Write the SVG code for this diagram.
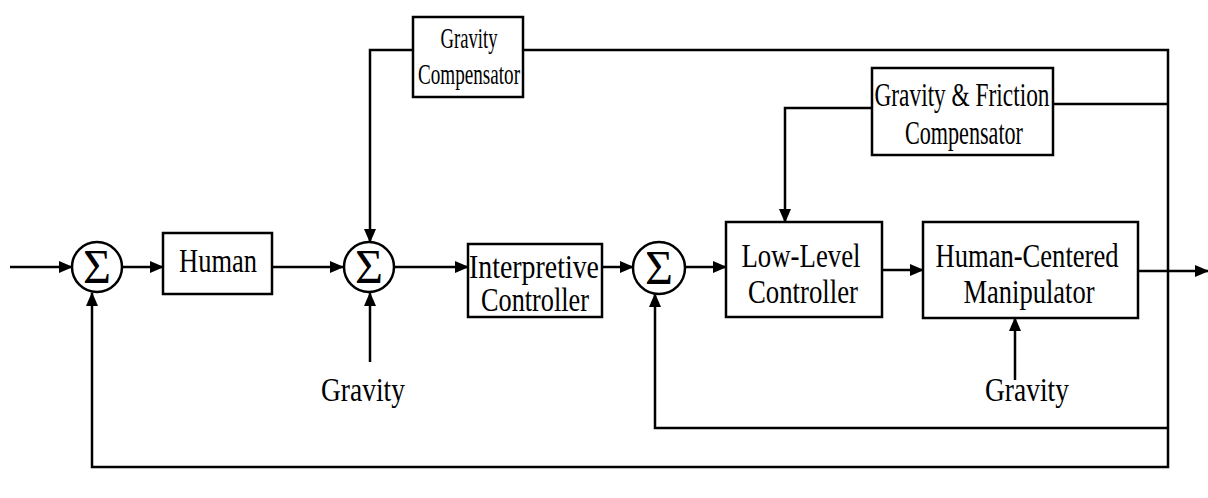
<svg xmlns="http://www.w3.org/2000/svg" width="1208" height="498" viewBox="0 0 1208 498">
<style>
.box{fill:#fff;stroke:#000;stroke-width:2.5}
.sum{fill:#fff;stroke:#000;stroke-width:2.5}
.ln{fill:none;stroke:#000;stroke-width:2.5}
.t{font-family:"Liberation Serif","Times New Roman",serif;font-size:33px;fill:#000;text-anchor:middle}
.ts{font-family:"Liberation Serif","Times New Roman",serif;font-size:30px;fill:#000;text-anchor:middle}
.sg{font-family:"Liberation Serif","Times New Roman",serif;font-size:48px;fill:#000;text-anchor:middle}
</style>
<defs>
<marker id="ah" markerUnits="userSpaceOnUse" markerWidth="14" markerHeight="12" refX="13" refY="6" orient="auto">
<path d="M0,0 L14,6 L0,12 Z" fill="#000"/>
</marker>
</defs>
<rect width="1208" height="498" fill="#fff"/>
<g id="connectors">
<path class="ln" d="M10,267 L72,267" marker-end="url(#ah)"/>
<path class="ln" d="M122,267 L163,267" marker-end="url(#ah)"/>
<path class="ln" d="M272,267 L343,267" marker-end="url(#ah)"/>
<path class="ln" d="M394,267 L468,267" marker-end="url(#ah)"/>
<path class="ln" d="M602,267 L633,267" marker-end="url(#ah)"/>
<path class="ln" d="M685,267 L726,267" marker-end="url(#ah)"/>
<path class="ln" d="M882,270 L923,270" marker-end="url(#ah)"/>
<path class="ln" d="M1138,271 L1208,271" marker-end="url(#ah)"/>
<path class="ln" d="M370,362 L370,293" marker-end="url(#ah)"/>
<path class="ln" d="M1015,380 L1015,318" marker-end="url(#ah)"/>
<path class="ln" d="M413,50 L370,50 L370,242" marker-end="url(#ah)"/>
<path class="ln" d="M523,50 L1168,50 L1168,467 L92,467 L92,293" marker-end="url(#ah)"/>
<path class="ln" d="M1053,104 L1168,104"/>
<path class="ln" d="M872,108 L785,108 L785,222" marker-end="url(#ah)"/>
<path class="ln" d="M1168,428 L655,428 L655,294" marker-end="url(#ah)"/>
</g>
<g id="sum1"><circle class="sum" cx="97" cy="267" r="25"/><text class="sg" x="97" y="283">Σ</text></g>
<g id="human"><rect class="box" x="163" y="233" width="109" height="61"/><text class="t" x="218" y="272" textLength="78" lengthAdjust="spacingAndGlyphs">Human</text></g>
<g id="sum2"><circle class="sum" cx="369" cy="267" r="25"/><text class="sg" x="369" y="283">Σ</text></g>
<g id="interpretive"><rect class="box" x="468" y="244" width="134" height="73"/><text class="t" x="534" y="278" textLength="130" lengthAdjust="spacingAndGlyphs">Interpretive</text><text class="t" x="535" y="311" textLength="108" lengthAdjust="spacingAndGlyphs">Controller</text></g>
<g id="sum3"><circle class="sum" cx="659" cy="268" r="26"/><text class="sg" x="659" y="284">Σ</text></g>
<g id="lowlevel"><rect class="box" x="726" y="222" width="156" height="95"/><text class="t" x="801" y="267" textLength="119" lengthAdjust="spacingAndGlyphs">Low-Level</text><text class="t" x="803" y="303" textLength="110" lengthAdjust="spacingAndGlyphs">Controller</text></g>
<g id="manipulator"><rect class="box" x="923" y="222" width="215" height="96"/><text class="t" x="1027" y="267" textLength="183" lengthAdjust="spacingAndGlyphs">Human-Centered</text><text class="t" x="1029" y="303" textLength="131" lengthAdjust="spacingAndGlyphs">Manipulator</text></g>
<g id="gravitycomp"><rect class="box" x="413" y="17" width="110" height="80"/><text class="ts" x="469" y="48" textLength="57" lengthAdjust="spacingAndGlyphs">Gravity</text><text class="ts" x="469" y="84" textLength="102" lengthAdjust="spacingAndGlyphs">Compensator</text></g>
<g id="gfcomp"><rect class="box" x="872" y="68" width="181" height="87"/><text class="t" x="962" y="106" textLength="175" lengthAdjust="spacingAndGlyphs">Gravity &amp; Friction</text><text class="t" x="964" y="144" textLength="118" lengthAdjust="spacingAndGlyphs">Compensator</text></g>
<g id="gravity1"><text class="t" x="363" y="401" textLength="84" lengthAdjust="spacingAndGlyphs">Gravity</text></g>
<g id="gravity2"><text class="t" x="1027" y="401" textLength="84" lengthAdjust="spacingAndGlyphs">Gravity</text></g>
</svg>
